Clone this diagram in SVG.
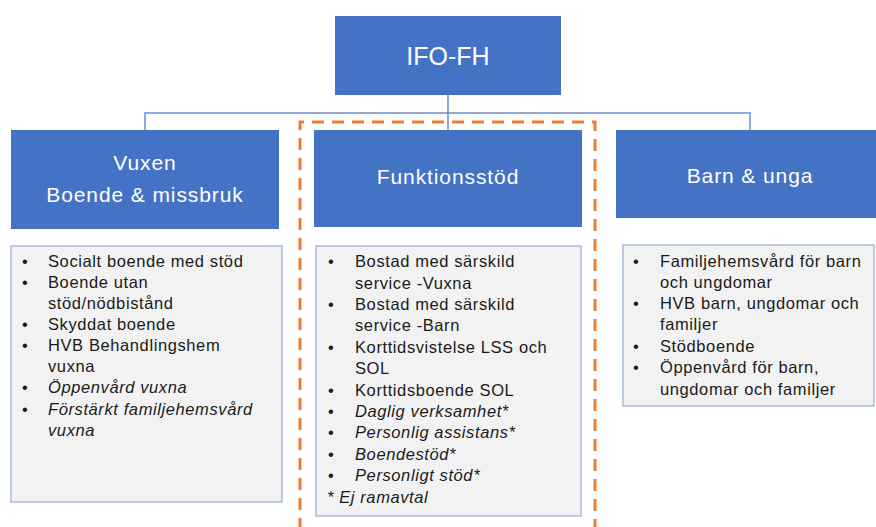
<svg xmlns="http://www.w3.org/2000/svg" width="876" height="527" viewBox="0 0 876 527">
<style>
.hdr{fill:#4472C4;}
.hdrt{fill:#ffffff;font-family:"Liberation Sans",Arial,sans-serif;font-size:21px;letter-spacing:0.9px;text-anchor:middle;}
.lst{fill:#F2F2F2;stroke:#8FAADC;stroke-width:1.2;}
.t{fill:#1a1a1a;font-family:"Liberation Sans",Arial,sans-serif;font-size:16.5px;letter-spacing:0.6px;}
.i{font-style:italic;}
.conn{fill:none;stroke:#8FAADC;stroke-width:2;}
</style>
<rect width="876" height="527" fill="#ffffff"/>
<g id="connectors">
<path class="conn" d="M145,130 V113 H750 V130"/>
<path d="M448,95 V130" fill="none" stroke="#4472C4" stroke-width="1.2"/>
</g>
<path id="highlight" d="M300,530 V122 H595 V530" fill="none" stroke="#ED7D31" stroke-width="3" stroke-dasharray="12 8"/>
<g id="ifo-fh">
<rect class="hdr" x="335" y="16" width="226" height="79"/>
<text class="hdrt" x="448" y="65" style="font-size:25px;letter-spacing:0">IFO-FH</text>
</g>
<g id="vuxen">
<rect class="hdr" x="11" y="130" width="268" height="99"/>
<text class="hdrt" x="145" y="170">Vuxen</text>
<text class="hdrt" x="145" y="202">Boende &amp; missbruk</text>
</g>
<g id="funktionsstod">
<rect class="hdr" x="314" y="130" width="268" height="97"/>
<text class="hdrt" x="448" y="184">Funktionsstöd</text>
</g>
<g id="barn">
<rect class="hdr" x="616" y="130" width="262" height="88"/>
<text class="hdrt" x="750" y="183">Barn &amp; unga</text>
</g>
<g id="vuxen-list">
<rect class="lst" x="11" y="246" width="271" height="256"/>
<g class="t">
<text x="22" y="267">•</text><text x="48" y="267">Socialt boende med stöd</text>
<text x="22" y="288">•</text><text x="48" y="288">Boende utan</text>
<text x="48" y="309">stöd/nödbistånd</text>
<text x="22" y="330">•</text><text x="48" y="330">Skyddat boende</text>
<text x="22" y="351">•</text><text x="48" y="351">HVB Behandlingshem</text>
<text x="48" y="372">vuxna</text>
<text x="22" y="393">•</text><text class="i" x="48" y="393">Öppenvård vuxna</text>
<text x="22" y="415">•</text><text class="i" x="48" y="415">Förstärkt familjehemsvård</text>
<text class="i" x="48" y="436">vuxna</text>
</g>
</g>
<g id="funktionsstod-list">
<rect class="lst" x="316" y="246" width="265" height="270"/>
<g class="t">
<text x="328" y="267">•</text><text x="355" y="267">Bostad med särskild</text>
<text x="355" y="289">service -Vuxna</text>
<text x="328" y="310">•</text><text x="355" y="310">Bostad med särskild</text>
<text x="355" y="331">service -Barn</text>
<text x="328" y="353">•</text><text x="355" y="353">Korttidsvistelse LSS och</text>
<text x="355" y="374">SOL</text>
<text x="328" y="396">•</text><text x="355" y="396">Korttidsboende SOL</text>
<text x="328" y="417">•</text><text class="i" x="355" y="417">Daglig verksamhet*</text>
<text x="328" y="438">•</text><text class="i" x="355" y="438">Personlig assistans*</text>
<text x="328" y="460">•</text><text class="i" x="355" y="460">Boendestöd*</text>
<text x="328" y="481">•</text><text class="i" x="355" y="481">Personligt stöd*</text>
<text class="i" x="327" y="503">* Ej ramavtal</text>
</g>
</g>
<g id="barn-list">
<rect class="lst" x="623" y="245" width="251" height="161"/>
<g class="t">
<text x="633" y="267">•</text><text x="660" y="267">Familjehemsvård för barn</text>
<text x="660" y="288">och ungdomar</text>
<text x="633" y="309">•</text><text x="660" y="309">HVB barn, ungdomar och</text>
<text x="660" y="330">familjer</text>
<text x="633" y="352">•</text><text x="660" y="352">Stödboende</text>
<text x="633" y="373">•</text><text x="660" y="373">Öppenvård för barn,</text>
<text x="660" y="395">ungdomar och familjer</text>
</g>
</g>
</svg>
